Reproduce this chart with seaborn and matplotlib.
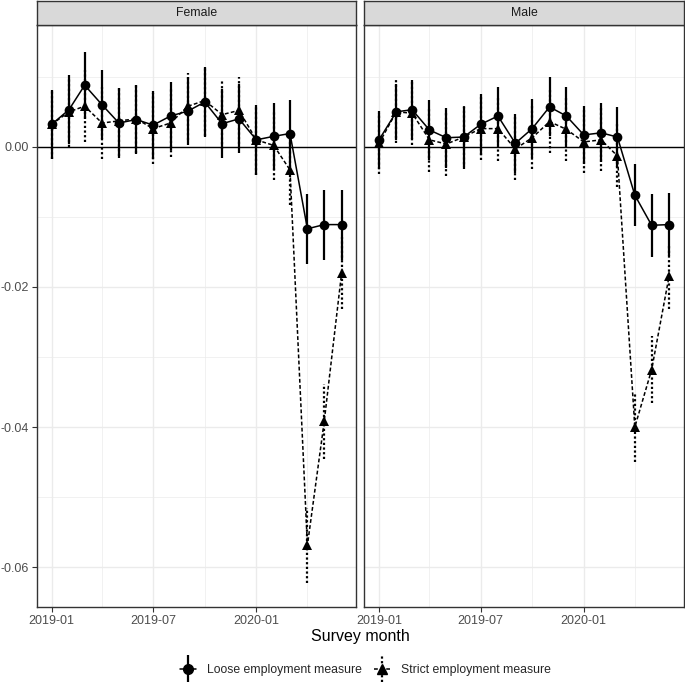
import pandas as pd
import numpy as np
import matplotlib
matplotlib.use("Agg")
import matplotlib.pyplot as plt
import matplotlib.dates as mdates
from matplotlib.lines import Line2D
from matplotlib.container import ErrorbarContainer
from matplotlib.legend_handler import HandlerErrorbar
from matplotlib.ticker import FixedLocator, FixedFormatter
import seaborn as sns

# Data
months = ["2019-01", "2019-02", "2019-03", "2019-04", "2019-05", "2019-06",
          "2019-07", "2019-08", "2019-09", "2019-10", "2019-11", "2019-12",
          "2020-01", "2020-02", "2020-03", "2020-04", "2020-05", "2020-06"]

female_loose = [0.0032, 0.0053, 0.0088, 0.0060, 0.0034, 0.0039, 0.0031, 0.0044, 0.0051,
                0.0064, 0.0033, 0.0040, 0.0010, 0.0015, 0.0019, -0.0117, -0.0111, -0.0111]
female_loose_err = [0.0049, 0.0049, 0.0048, 0.0049, 0.0050, 0.0049, 0.0049, 0.0049, 0.0048,
                    0.0050, 0.0049, 0.0049, 0.0050, 0.0048, 0.0048, 0.0050, 0.0050, 0.0050]
female_strict = [0.0032, 0.0050, 0.0058, 0.0034, 0.0037, 0.0040, 0.0026, 0.0034, 0.0058,
                 0.0066, 0.0046, 0.0052, 0.0010, 0.0002, -0.0033, -0.0569, -0.0392, -0.0180]
female_strict_err = [0.0050, 0.0050, 0.0051, 0.0051, 0.0050, 0.0049, 0.0051, 0.0049, 0.0048,
                     0.0050, 0.0049, 0.0048, 0.0050, 0.0050, 0.0050, 0.0053, 0.0053, 0.0051]

male_loose = [0.0010, 0.0050, 0.0053, 0.0024, 0.0013, 0.0014, 0.0032, 0.0044, 0.0005,
              0.0026, 0.0057, 0.0044, 0.0017, 0.0020, 0.0014, -0.0069, -0.0112, -0.0111]
male_loose_err = [0.0041, 0.0040, 0.0042, 0.0043, 0.0043, 0.0043, 0.0043, 0.0042, 0.0042,
                  0.0042, 0.0042, 0.0042, 0.0041, 0.0042, 0.0043, 0.0044, 0.0045, 0.0045]
male_strict = [0.0005, 0.0050, 0.0048, 0.0010, 0.0004, 0.0014, 0.0026, 0.0026, -0.0003,
               0.0013, 0.0036, 0.0025, 0.0007, 0.0010, -0.0013, -0.0400, -0.0318, -0.0185]
male_strict_err = [0.0044, 0.0045, 0.0045, 0.0046, 0.0045, 0.0045, 0.0045, 0.0046, 0.0045,
                   0.0045, 0.0045, 0.0045, 0.0045, 0.0045, 0.0045, 0.0050, 0.0048, 0.0046]

panels = ["Female", "Male"]
measures = ["Loose employment measure", "Strict employment measure"]

rows = []
series = {
    ("Female", measures[0]): (female_loose, female_loose_err),
    ("Female", measures[1]): (female_strict, female_strict_err),
    ("Male", measures[0]): (male_loose, male_loose_err),
    ("Male", measures[1]): (male_strict, male_strict_err),
}
for (sex, meas), (est, err) in series.items():
    for m, e, s in zip(months, est, err):
        rows.append({"month": pd.to_datetime(m), "sex": sex, "measure": meas, "est": e, "err": s})
df = pd.DataFrame(rows)

sns.set_style("white")
plt.rcParams['font.family'] = ['Liberation Sans', 'DejaVu Sans']
plt.rcParams['axes.unicode_minus'] = False

fig = plt.figure(figsize=(6.85, 6.93), dpi=100)
grid_col = "#ebebeb"
border_col = "#333333"
text_col = "#4d4d4d"
dotted = (0, (1.0, 1.1))

xmin = pd.Timestamp("2019-01-01") - pd.Timedelta(days=26)
xmax = pd.Timestamp("2020-06-01") + pd.Timedelta(days=26)

lefts = [0.054, 0.532]
width = 0.466
bottom, height = 0.124, 0.840
err_handles = {}

for i, sex in enumerate(panels):
    ax = fig.add_axes([lefts[i], bottom, width, height])
    sub = df[df["sex"] == sex]

    ax.set_xlim(xmin, xmax)
    ax.set_ylim(-0.0657, 0.0174)
    ax.xaxis.set_major_locator(mdates.MonthLocator(bymonth=[1, 7]))
    ax.xaxis.set_major_formatter(mdates.DateFormatter("%Y-%m"))
    ax.xaxis.set_minor_locator(mdates.MonthLocator(bymonth=[4, 10]))
    ax.yaxis.set_major_locator(FixedLocator([-0.06, -0.04, -0.02, 0.0]))
    ax.yaxis.set_major_formatter(FixedFormatter(["-0.06", "-0.04", "-0.02", "0.00"]))
    ax.yaxis.set_minor_locator(FixedLocator([-0.05, -0.03, -0.01, 0.01]))
    ax.grid(True, which="major", color=grid_col, linewidth=1.0, zorder=0)
    ax.grid(True, which="minor", color=grid_col, linewidth=0.5, zorder=0)
    ax.set_axisbelow(True)

    ax.axhline(0, color="black", linewidth=1.0, zorder=1)

    for meas, ls in zip(measures, ["-", dotted]):
        s = sub[sub["measure"] == meas]
        eb = ax.errorbar(s["month"], s["est"], yerr=s["err"], fmt="none", ecolor="black",
                         elinewidth=1.6, zorder=2)
        eb[2][0].set_linestyle(ls)
        err_handles[meas] = eb

    sns.lineplot(data=sub, x="month", y="est", style="measure",
                 markers={measures[0]: "o", measures[1]: "^"},
                 dashes={measures[0]: "", measures[1]: (2.5, 1.5)},
                 color="black", markersize=7, linewidth=1.1, markeredgewidth=0,
                 legend=False, ax=ax, zorder=3)

    ax.set_xlabel("")
    ax.set_ylabel("")
    for side in ax.spines:
        ax.spines[side].set_color(border_col)
        ax.spines[side].set_linewidth(1.0)
    ax.tick_params(axis="both", which="major", direction="out", length=3.5, width=0.8,
                   color=border_col, labelsize=9, labelcolor=text_col, pad=2)
    ax.tick_params(axis="both", which="minor", length=0)
    if i == 1:
        ax.tick_params(axis="y", which="both", left=False, labelleft=False)
    else:
        ax.tick_params(axis="y", left=True)
    ax.tick_params(axis="x", bottom=True)

    # facet strip
    sax = fig.add_axes([lefts[i], bottom + height, width, 0.035])
    sax.set_facecolor("#d9d9d9")
    sax.set_xticks([])
    sax.set_yticks([])
    for side in sax.spines:
        sax.spines[side].set_color(border_col)
        sax.spines[side].set_linewidth(1.0)
    sax.text(0.5, 0.5, sex, ha="center", va="center", fontsize=8.8, color="#1a1a1a",
             transform=sax.transAxes)

fig.text(0.526, 0.082, "Survey month", ha="center", va="center", fontsize=11.5, color="black")

h_loose = (Line2D([], [], color="black", linestyle="-", linewidth=1.1),
           err_handles[measures[0]],
           Line2D([], [], color="black", marker="o", markersize=7, linestyle="none"))
h_strict = (Line2D([], [], color="black", linestyle=(0, (2.5, 1.5)), linewidth=1.1),
            err_handles[measures[1]],
            Line2D([], [], color="black", marker="^", markersize=7, linestyle="none"))
fig.legend([h_loose, h_strict], measures, loc="center", bbox_to_anchor=(0.534, 0.033),
           ncol=2, frameon=False, fontsize=8.8, handlelength=1.3, columnspacing=1.0,
           handletextpad=0.9,
           handler_map={ErrorbarContainer: HandlerErrorbar(xerr_size=1.1)})

fig.savefig("out.png", dpi=100)
